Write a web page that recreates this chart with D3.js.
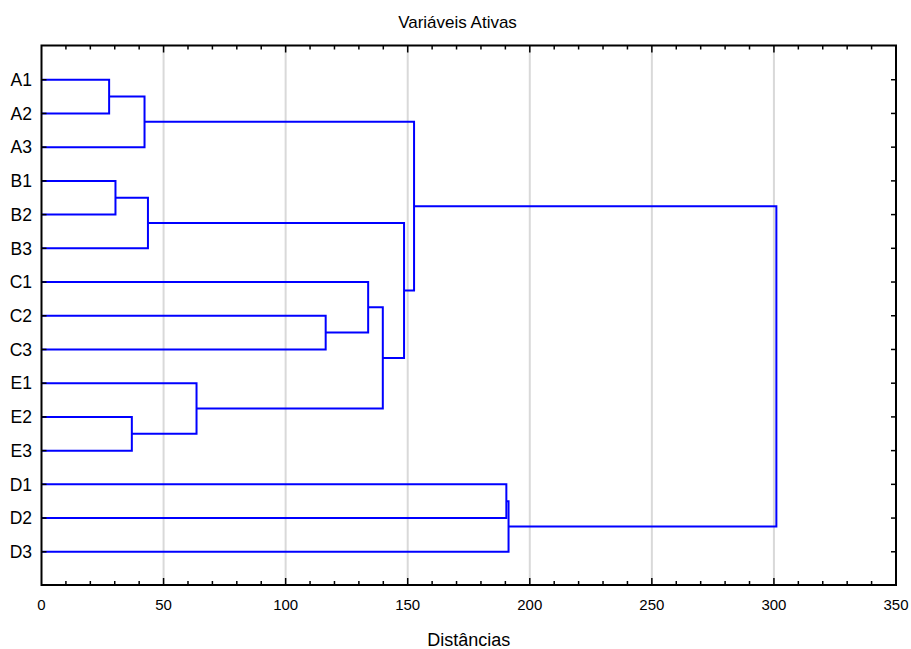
<!DOCTYPE html>
<html>
<head>
<meta charset="utf-8">
<script src="https://cdn.jsdelivr.net/npm/d3@7"></script>
<style>
  body { margin: 0; background: #fff; }
  svg { display: block; font-family: "Liberation Sans", Arial, sans-serif; }
</style>
</head>
<body>
<svg id="chart" width="911" height="649"></svg>
<script>
// Leaves, top to bottom
const leaves = ["A1","A2","A3","B1","B2","B3","C1","C2","C3","E1","E2","E3","D1","D2","D3"];
// Merge steps: left child, right child, linkage distance
// children: leaf names or "m<k>" for earlier merges
const mergeLeft   = ["A1","m0","B1","m2","C2","C1","E2","E1","m5","m3","m1","D1","m11","m10"];
const mergeRight  = ["A2","A3","B2","B3","C3","m4","E3","m6","m7","m8","m9","D2","D3","m12"];
const mergeHeight = [27.7, 42.2, 30.3, 43.6, 116.4, 133.8, 37.0, 63.5, 139.8, 148.5, 152.6, 190.4, 191.3, 301.0];
const xTicks = [0, 50, 100, 150, 200, 250, 300, 350];
const xMinorTicks = d3.range(0, 351, 10);
const title = "Variáveis Ativas";
const xTitle = "Distâncias";

const svg = d3.select("#chart");
const pLeft = 41.5, pRight = 896, pTop = 45.5, pBottom = 585;

const x = d3.scaleLinear().domain([0, 350]).range([pLeft, pRight]);
const y = d3.scaleLinear().domain([0, leaves.length + 1]).range([46, 585.5]);

// grid
svg.append("g").selectAll("line").data(xTicks.filter(d => d > 0 && d < 350)).join("line")
  .attr("x1", d => x(d)).attr("x2", d => x(d))
  .attr("y1", pTop).attr("y2", pBottom)
  .attr("stroke", "#d9d9d9").attr("stroke-width", 2);

// node positions
const pos = {};
leaves.forEach((l, i) => { pos[l] = { x: 0, y: y(i + 1) }; });
const links = [];
mergeHeight.forEach((h, k) => {
  const a = pos[mergeLeft[k]], b = pos[mergeRight[k]];
  links.push({ a, b, h });
  pos["m" + k] = { x: h, y: (a.y + b.y) / 2 };
});

svg.append("g").selectAll("path").data(links).join("path")
  .attr("d", d => `M${x(d.a.x)},${d.a.y}H${x(d.h)}V${d.b.y}H${x(d.b.x)}`)
  .attr("fill", "none").attr("stroke", "#0000ff").attr("stroke-width", 2);

// frame
svg.append("rect").attr("x", pLeft).attr("y", pTop).attr("width", pRight - pLeft).attr("height", pBottom - pTop)
  .attr("fill", "none").attr("stroke", "#000").attr("stroke-width", 2);

// x ticks (inward) top and bottom
const isMajor = d => d % 50 === 0;
const tk = svg.append("g").attr("stroke", "#000").attr("stroke-width", 1.5);
xMinorTicks.filter(d => d > 0 && d < 350).forEach(d => {
  const len = isMajor(d) ? 7 : 4;
  tk.append("line").attr("x1", x(d)).attr("x2", x(d)).attr("y1", pBottom).attr("y2", pBottom - len);
  tk.append("line").attr("x1", x(d)).attr("x2", x(d)).attr("y1", pTop).attr("y2", pTop + len);
});
// y ticks (inward) left and right
leaves.forEach((l, i) => {
  tk.append("line").attr("x1", pLeft).attr("x2", pLeft + 5).attr("y1", y(i + 1)).attr("y2", y(i + 1));
  tk.append("line").attr("x1", pRight).attr("x2", pRight - 5).attr("y1", y(i + 1)).attr("y2", y(i + 1));
});

// leaf labels
svg.append("g").selectAll("text").data(leaves).join("text")
  .attr("x", pLeft - 9.5).attr("y", (d, i) => y(i + 1) + 6.3)
  .attr("text-anchor", "end").attr("font-size", 17.5).attr("fill", "#000").text(d => d);

// x tick labels
svg.append("g").selectAll("text").data(xTicks).join("text")
  .attr("x", d => x(d)).attr("y", 610)
  .attr("text-anchor", "middle").attr("font-size", 15).attr("fill", "#000").text(d => d);

// titles
svg.append("text").attr("x", 457.5).attr("y", 28)
  .attr("text-anchor", "middle").attr("font-size", 17).text(title);
svg.append("text").attr("x", (pLeft + pRight) / 2).attr("y", 646)
  .attr("text-anchor", "middle").attr("font-size", 18).text(xTitle);
</script>
</body>
</html>
